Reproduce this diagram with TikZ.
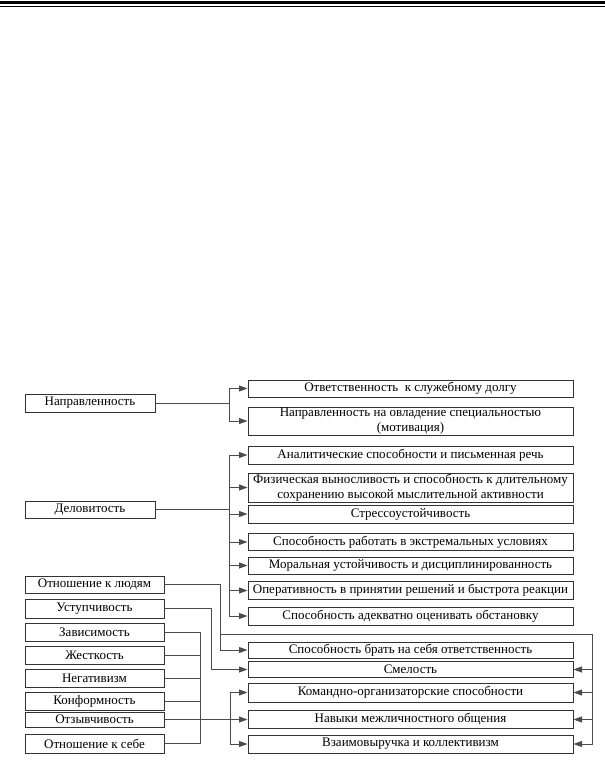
\documentclass[tikz,border=0pt]{standalone}
\usepackage{fontspec}
\setmainfont{Liberation Serif}
\usetikzlibrary{arrows.meta}
\begin{document}
\begin{tikzpicture}[x=1pt,y=-1pt,
  box/.style={draw=black!80, line width=1pt, rectangle, inner sep=0pt, align=center,
    font=\fontsize{13}{14.5}\selectfont},
  lbox/.style={box, minimum width=130pt},
  wbox/.style={box, minimum width=139pt},
  rbox/.style={box, minimum width=325pt},
  ln/.style={draw=black!70, line width=0.9pt},
  arr/.style={ln, -{Triangle[length=8.5pt,width=6pt]}}]
\useasboundingbox (0,0) rectangle (605,763);
\fill (0,1) rectangle (605,4);
\fill (0,6) rectangle (605,7.2);

% left boxes
\node[lbox, minimum height=18pt] (napr) at (90,403) {Направленность};
\node[lbox, minimum height=17pt] (delov) at (90,509.5) {Деловитость};
\node[wbox, minimum height=17pt] (otnl) at (94.5,584.5) {Отношение к людям};
\node[wbox, minimum height=19pt] (ustup) at (94.5,608.5) {Уступчивость};
\node[wbox, minimum height=18pt] (zavis) at (94.5,632) {Зависимость};
\node[wbox, minimum height=18pt] (zhest) at (94.5,655) {Жесткость};
\node[wbox, minimum height=18pt] (negat) at (94.5,678) {Негативизм};
\node[wbox, minimum height=18pt] (konf) at (94.5,701) {Конформность};
\node[wbox, minimum height=15pt] (otzyv) at (94.5,719.5) {Отзывчивость};
\node[wbox, minimum height=19pt] (otnse) at (94.5,743.5) {Отношение к себе};

% right boxes
\node[rbox, minimum height=17pt] (r1) at (410.5,388.5) {Ответственность~ к служебному долгу};
\node[rbox, minimum height=28pt] (r2) at (410.5,421) {Направленность на овладение специальностью\\(мотивация)};
\node[rbox, minimum height=18pt] (r3) at (410.5,455) {Аналитические способности и письменная речь};
\node[rbox, minimum height=29pt] (r4) at (410.5,487.5) {Физическая выносливость и способность к длительному\\сохранению высокой мыслительной активности};
\node[rbox, minimum height=18pt] (r5) at (410.5,514) {Стрессоустойчивость};
\node[rbox, minimum height=17pt] (r6) at (410.5,542) {Способность работать в экстремальных условиях};
\node[rbox, minimum height=17pt] (r7) at (410.5,565.5) {Моральная устойчивость и дисциплинированность};
\node[rbox, minimum height=18pt] (r8) at (410.5,590.5) {Оперативность в принятии решений и быстрота реакции};
\node[rbox, minimum height=18pt] (r9) at (410.5,616) {Способность адекватно оценивать обстановку};
\node[rbox, minimum height=16pt] (brat) at (410.5,650) {Способность брать на себя ответственность};
\node[rbox, minimum height=16pt] (smel) at (410.5,669.5) {Смелость};
\node[rbox, minimum height=19pt] (kom) at (410.5,692.5) {Командно-организаторские способности};
\node[rbox, minimum height=18pt] (nav) at (410.5,719.5) {Навыки межличностного общения};
\node[rbox, minimum height=18pt] (vzaim) at (410.5,744) {Взаимовыручка и коллективизм};

% Направленность
\coordinate (jn) at (229,403);
\draw[ln] (napr.east) -- (jn);
\draw[arr] (jn) |- (r1.west);
\draw[arr] (jn) |- (r2.west);

% Деловитость
\coordinate (jd) at (229,509.5);
\draw[ln] (delov.east) -- (jd);
\foreach \n in {r3,r4,r5,r6,r7,r8,r9} \draw[arr] (jd) |- (\n.west);

% Отношение к людям
\coordinate (ja) at (220,584.5);
\coordinate (jb) at (220,634);
\coordinate (jc) at (592,634);
\draw[arr] (otnl.east) -- (ja) |- (brat.west);
\draw[ln] (jb) -- (jc);
\foreach \n in {smel,kom,nav,vzaim} \draw[arr] (jc) |- (\n.east);

% Уступчивость
\coordinate (ju) at (211,608.5);
\draw[arr] (ustup.east) -- (ju) |- (smel.west);

% group
\coordinate (jg) at (200,719.5);
\coordinate (jt) at (230,719.5);
\foreach \n in {zavis,zhest,negat,konf,otzyv,otnse} \draw[ln] (\n.east) -- (\n.east -| jg);
\draw[ln] (zavis.east -| jg) -- (otnse.east -| jg);
\draw[ln] (jg) -- (jt);
\foreach \n in {kom,nav,vzaim} \draw[arr] (jt) |- (\n.west);
\end{tikzpicture}
\end{document}
